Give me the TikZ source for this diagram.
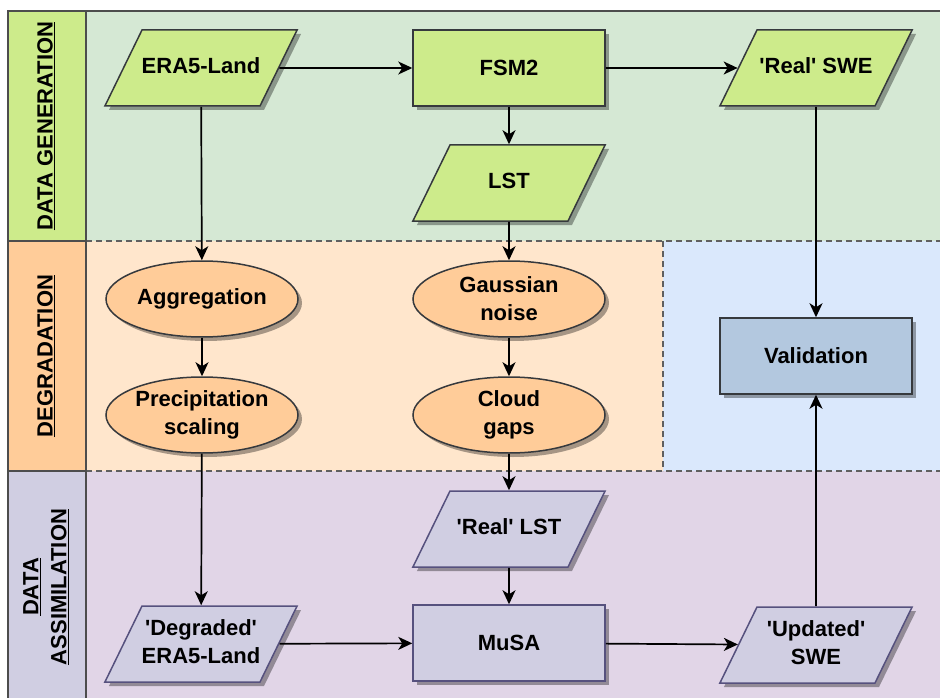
\documentclass[tikz,border=0pt]{standalone}
\usepackage{fontspec}
\setmainfont{Liberation Sans}
\usetikzlibrary{shapes.geometric,shadows,arrows.meta}

\definecolor{genfill}{HTML}{CDEB8B}
\definecolor{genback}{HTML}{D5E8D4}
\definecolor{degfill}{HTML}{FFCC99}
\definecolor{degback}{HTML}{FFE6CC}
\definecolor{valfill}{HTML}{B3C8DF}
\definecolor{valback}{HTML}{DAE8FC}
\definecolor{asmfill}{HTML}{D0CEE2}
\definecolor{asmback}{HTML}{E1D5E7}
\definecolor{asmedge}{HTML}{56517E}
\definecolor{darkedge}{HTML}{36393D}
\definecolor{laneline}{HTML}{4D4D4D}

\newcommand{\boxfont}{\fontsize{22}{28}\selectfont\bfseries}
\newcommand{\sq}{\textquotesingle}
% parallelogram body: fixed box, so the slant comes out the same everywhere
\newcommand{\datatext}[1]{\parbox[c][76pt][c]{118pt}{\centering
  \makebox[118pt]{\begin{tabular}{@{}c@{}}#1\end{tabular}}}}

\tikzset{
  shade/.style={drop shadow={shadow xshift=4pt,shadow yshift=-4pt,fill=black,opacity=0.35}},
  block/.style={shade, rectangle, line width=1.5pt, minimum width=192pt, minimum height=76pt,
    inner sep=0pt, align=center, font=\boxfont},
  data/.style={block, trapezium, trapezium left angle=64, trapezium right angle=116,
    trapezium stretches body},
  op/.style={block, ellipse},
  gen/.style={fill=genfill, draw=darkedge},
  deg/.style={fill=degfill, draw=darkedge},
  val/.style={fill=valfill, draw=darkedge},
  asm/.style={fill=asmfill, draw=asmedge},
  lane/.style={rotate=90, align=center, font=\boxfont},
  flow/.style={line width=1.7pt, -{Stealth[length=14pt,width=13pt,inset=4pt]}},
  border/.style={draw=laneline, line width=1.5pt},
  divider/.style={draw=laneline!90, line width=1.2pt, dash pattern=on 6pt off 4pt}
}

\begin{document}
\begin{tikzpicture}[x=1pt,y=-1pt]
  \useasboundingbox[fill=white] (0,0) rectangle (940,698);

  % lanes
  \fill[genback] (86,11) rectangle (940,241);
  \fill[degback] (86,241) rectangle (663,471);
  \fill[valback] (663,241) rectangle (940,471);
  \fill[asmback] (86,471) rectangle (940,705);
  \fill[genfill] (8,11) rectangle (86,241);
  \fill[degfill] (8,241) rectangle (86,471);
  \fill[asmfill] (8,471) rectangle (86,705);

  \draw[divider] (86,241) -- (940,241);
  \draw[divider] (86,471) -- (940,471);
  \draw[divider] (663,241) -- (663,471);
  \draw[border] (940,11) -- (8,11) -- (8,705);
  \draw[border] (86,11) -- (86,705);
  \draw[border] (8,241) -- (86,241);
  \draw[border] (8,471) -- (86,471);

  \node (genlane) at (46,126) [lane] {\underline{DATA GENERATION}};
  \node (deglane) at (46,356) [lane] {\underline{DEGRADATION}};
  \node (asmlane) at (46,587) [lane] {\underline{DATA}\\\underline{ASSIMILATION}};

  % data generation
  \node (era) at (201,68) [data, gen] {\datatext{ERA5-Land}};
  \node (fsm) at (509,68) [block, gen] {FSM2};
  \node (realswe) at (816,68) [data, gen] {\datatext{\sq Real\sq{} SWE}};
  \node (lst) at (509,183) [data, gen] {\datatext{LST}};

  % degradation
  \node (aggr) at (202,299) [op, deg] {Aggregation};
  \node (precip) at (202,415) [op, deg] {Precipitation\\scaling};
  \node (noise) at (509,299) [op, deg] {Gaussian\\noise};
  \node (gaps) at (509,415) [op, deg] {Cloud\\gaps};
  \node (valid) at (816,356) [block, val] {Validation};

  % data assimilation
  \node (reallst) at (509,529) [data, asm] {\datatext{\sq Real\sq{} LST}};
  \node (degraded) at (201,644) [data, asm] {\datatext{\sq Degraded\sq\\ERA5-Land}};
  \node (musa) at (509,643) [block, asm] {MuSA};
  \node (updated) at (816,645) [data, asm] {\datatext{\sq Updated\sq\\SWE}};

  \draw[flow] (era) -- (fsm);
  \draw[flow] (fsm) -- (realswe);
  \draw[flow] (fsm) -- (lst);
  \draw[flow] (era) -- (aggr);
  \draw[flow] (aggr) -- (precip);
  \draw[flow] (lst) -- (noise);
  \draw[flow] (noise) -- (gaps);
  \draw[flow] (gaps) -- (reallst);
  \draw[flow] (precip) -- (degraded);
  \draw[flow] (reallst) -- (musa);
  \draw[flow] (degraded) -- (musa);
  \draw[flow] (musa) -- (updated);
  \draw[flow] (updated) -- (valid);
  \draw[flow] (realswe) -- (valid);
\end{tikzpicture}
\end{document}
